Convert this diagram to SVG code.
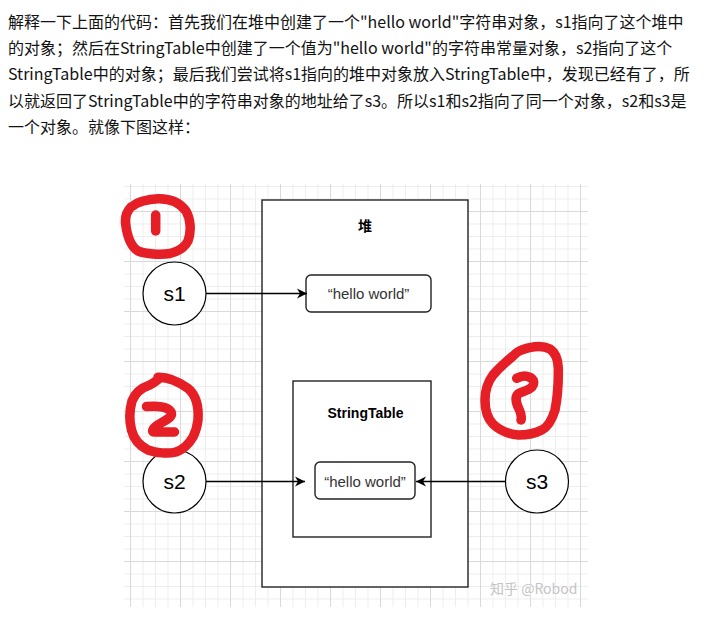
<svg xmlns="http://www.w3.org/2000/svg" width="709" height="644" viewBox="0 0 709 644">
<defs>
<pattern id="minor" patternUnits="userSpaceOnUse" x="130" y="186" width="12.5" height="12.5">
<path d="M0 0.5H12.5M0.5 0V12.5" stroke="#ededed" stroke-width="1" fill="none"/>
</pattern>
<pattern id="major" patternUnits="userSpaceOnUse" x="130" y="211" width="50" height="50">
<path d="M0 0.5H50M0.5 0V50" stroke="#d9d9d9" stroke-width="1" fill="none"/>
</pattern>
<marker id="arr" markerUnits="userSpaceOnUse" markerWidth="12" markerHeight="12" refX="10" refY="5" orient="auto" viewBox="0 0 12 10">
<path d="M0 0L10 5L0 10L3 5Z" fill="#000"/>
</marker>
<style>
.para{font-family:"Noto Sans CJK SC","Noto Sans",sans-serif;font-size:16px;fill:#121212}
.box{fill:#fff;stroke:#222;stroke-width:1.4}
.node{fill:#fff;stroke:#000;stroke-width:1.2}
.lbl{font-family:"Liberation Sans",Arial,sans-serif;font-size:21px;fill:#000;text-anchor:middle}
.hw{font-family:"Liberation Sans",Arial,sans-serif;font-size:15px;fill:#333;text-anchor:middle}
.ttl{font-family:"Liberation Sans","Noto Sans CJK SC",sans-serif;font-size:14px;font-weight:bold;fill:#000;text-anchor:middle}
.conn{stroke:#000;stroke-width:1.3;fill:none;marker-end:url(#arr)}
.red{stroke:#e61e25;stroke-width:9.5;fill:none;stroke-linecap:round;stroke-linejoin:round}
</style>
</defs>
<rect width="709" height="644" fill="#fff"/>
<g id="paragraph">
<text class="para" x="8" y="28">解释一下上面的代码：首先我们在堆中创建了一个"hello world"字符串对象，s1指向了这个堆中</text>
<text class="para" x="8" y="54">的对象；然后在StringTable中创建了一个值为"hello world"的字符串常量对象，s2指向了这个</text>
<text class="para" x="8" y="80">StringTable中的对象；最后我们尝试将s1指向的堆中对象放入StringTable中，发现已经有了，所</text>
<text class="para" x="8" y="107">以就返回了StringTable中的字符串对象的地址给了s3。所以s1和s2指向了同一个对象，s2和s3是</text>
<text class="para" x="8" y="133">一个对象。就像下图这样：</text>
</g>
<g id="grid">
<rect x="124" y="184" width="464" height="423" fill="url(#minor)"/>
<rect x="124" y="184" width="464" height="423" fill="url(#major)"/>
</g>
<g id="heap">
<rect class="box" x="262" y="200" width="206" height="387"/>
<text class="ttl" x="365" y="231">堆</text>
</g>
<g id="hello1">
<rect class="box" x="306" y="275" width="125" height="37" rx="5"/>
<text class="hw" x="368.5" y="299">“hello world”</text>
</g>
<g id="stringtable">
<rect class="box" x="293" y="381" width="138" height="156"/>
<text class="ttl" x="365.5" y="418">StringTable</text>
</g>
<g id="hello2">
<rect class="box" x="315" y="462" width="100" height="37" rx="5"/>
<text class="hw" x="365" y="486.5">“hello world”</text>
</g>
<g id="s1">
<circle class="node" cx="174.5" cy="293.5" r="31.5"/>
<text class="lbl" x="174.5" y="301">s1</text>
</g>
<g id="s2">
<circle class="node" cx="174.5" cy="481.5" r="31.5"/>
<text class="lbl" x="174.5" y="489">s2</text>
</g>
<g id="s3">
<circle class="node" cx="537" cy="481.5" r="31.5"/>
<text class="lbl" x="537" y="489">s3</text>
</g>
<g id="connectors">
<path class="conn" d="M206 293.5H307"/>
<path class="conn" d="M206 481.5H305"/>
<path class="conn" d="M505.5 481.5H416"/>
</g>
<g id="annotations">
<path class="red" d="M133 206C137 202 148 199 158 198.7C166 198.5 178 200 186 211C190 218 192 230 188 241C185 247 180 251 170 253.5C160 255 146 254 138 251C130 246 127 236 125.5 223C125 216 127 211 131 207"/>
<path class="red" d="M155.7 215V231"/>
<path class="red" d="M158 377.3C166 377 176 380 188 388.3C196 395 199 405 198 420C197 428 195 433 193 437C189 444 184 449 176 452C168 454 156 453 148 450C140 446 134 440 131.5 430C129 420 129.5 410 132 401C135 393 141 388 149.7 385C154 383 157 380 159.7 378.3"/>
<path class="red" d="M146.5 406.5C152 406 162 406 167 408.5C172 411 173 415 169 418C164 422 157 424 154 428C152 431 152 432 155 432H174.5"/>
<path class="red" d="M521.7 350C530 347 542 345 550 349C556 353 558 360 558.3 368C558.5 380 558 395 555 410C552 420 548 427 541.7 430C534 434 526 435 518.3 435C508 434 499 430 493 424C487 418 485 410 485 400C485 390 487 383 493 375C500 367 507 361 513 356C516 353 518 351 521.7 350"/>
<path class="red" d="M516.7 378.3C521 376 526 375.5 529 377C534 379 535 383 532 387C528 391 521 391.5 518 394C515 397 516 403 519 409C521.5 414 521.5 418 521 420"/>
</g>
<g id="watermark">
<text x="490" y="594" font-family="Noto Sans CJK SC, Noto Sans, sans-serif" font-size="14" fill="#c4c4c4" stroke="#fff" stroke-width="0.6" paint-order="stroke">知乎 @Robod</text>
</g>
</svg>
